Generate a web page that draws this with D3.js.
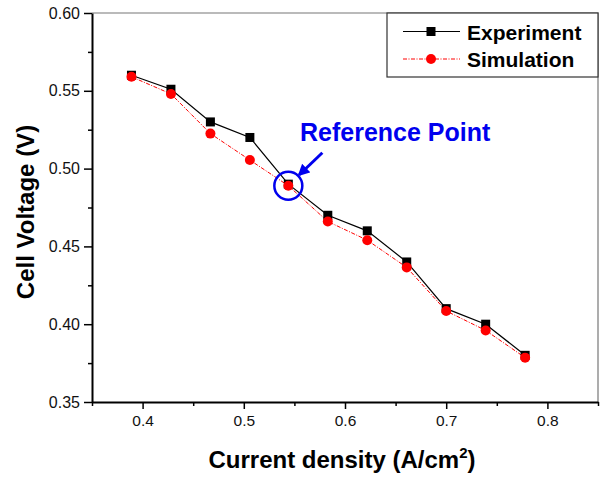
<!DOCTYPE html>
<html lang="en">
    <head>
        <meta charset="UTF-8">
        <title>Cell voltage</title>
        <style>
            body { margin: 0; background: #fff; }
            svg { font-family: "Liberation Sans", Arial, sans-serif; }
            .tick text { font-size: 15.5px; fill: #111; }
            .yax .tick text { font-size: 16px; }
            .axis path, .axis line { stroke: #000; }
        </style>
    </head>
    <body>
        <script src="https://cdn.jsdelivr.net/npm/d3@7"></script>
        <script>
// values
var currentDensity = [0.389, 0.428, 0.467, 0.506, 0.544, 0.583, 0.622, 0.661, 0.700, 0.739, 0.778];
var experiment = [0.560, 0.551, 0.530, 0.520, 0.490, 0.470, 0.460, 0.440, 0.410, 0.400, 0.380];
var simulation = [0.559, 0.548, 0.5225, 0.5055, 0.489, 0.466, 0.454, 0.4365, 0.4085, 0.396, 0.3785];
var xTicks = [0.4, 0.5, 0.6, 0.7, 0.8];
var xMinor = [0.35, 0.45, 0.55, 0.65, 0.75, 0.85];
var yTicks = [0.35, 0.40, 0.45, 0.50, 0.55, 0.60];
var yMinor = [0.375, 0.425, 0.475, 0.525, 0.575];
var seriesNames = ['Experiment', 'Simulation'];
var refIndex = 4;

var W = 609, H = 478;
var m = {left: 92, top: 13, right: 598, bottom: 402};

var svg = d3.select('body').append('svg')
    .attr('width', W).attr('height', H);

var x = d3.scaleLinear().domain([0.35, 0.85]).range([m.left, m.right]);
var y = d3.scaleLinear().domain([0.35, 0.60]).range([m.bottom, m.top]);

// frame top/right (grey)
svg.append('path')
    .attr('d', 'M' + m.left + ',' + m.top + 'H' + m.right + 'V' + m.bottom)
    .attr('fill', 'none').attr('stroke', '#777').attr('stroke-width', 1.2);

// minor ticks
svg.append('g').attr('class', 'axis')
    .attr('transform', 'translate(0,' + m.bottom + ')')
    .call(d3.axisBottom(x).tickValues(xMinor).tickSize(4).tickFormat(''))
    .call(g => g.select('.domain').remove())
    .selectAll('line').attr('stroke-width', 1.5);
svg.append('g').attr('class', 'axis')
    .attr('transform', 'translate(' + m.left + ',0)')
    .call(d3.axisLeft(y).tickValues(yMinor).tickSize(4).tickFormat(''))
    .call(g => g.select('.domain').remove())
    .selectAll('line').attr('stroke-width', 1.5);

// major axes
var xAxis = svg.append('g').attr('class', 'axis')
    .attr('transform', 'translate(0,' + m.bottom + ')')
    .call(d3.axisBottom(x).tickValues(xTicks).tickSize(7).tickSizeOuter(0).tickPadding(6).tickFormat(d3.format('.1f')));
xAxis.select('.domain').attr('stroke-width', 2);
xAxis.selectAll('line').attr('stroke-width', 1.5);

var yAxis = svg.append('g').attr('class', 'axis yax')
    .attr('transform', 'translate(' + m.left + ',0)')
    .call(d3.axisLeft(y).tickValues(yTicks).tickSize(8).tickSizeOuter(0).tickPadding(4).tickFormat(d3.format('.2f')));
yAxis.select('.domain').attr('stroke-width', 2);
yAxis.selectAll('line').attr('stroke-width', 1.5);

// axis titles
var xt = svg.append('text')
    .attr('x', 342).attr('y', 468)
    .attr('text-anchor', 'middle')
    .style('font-size', '24px').style('font-weight', 'bold')
    .text('Current density (A/cm');
xt.append('tspan').attr('dy', -10).style('font-size', '15px').text('2');
xt.append('tspan').attr('dy', 10).text(')');

svg.append('text')
    .attr('transform', 'translate(34,212) rotate(-90)')
    .attr('text-anchor', 'middle')
    .style('font-size', '24px').style('font-weight', 'bold')
    .text('Cell Voltage (V)');

// lines
var lineOf = function(vals) {
    return d3.line().x((d, i) => x(currentDensity[i])).y(d => y(d))(vals);
};
svg.append('path').attr('d', lineOf(experiment))
    .attr('fill', 'none').attr('stroke', '#000').attr('stroke-width', 1.2);
svg.append('path').attr('d', lineOf(simulation))
    .attr('fill', 'none').attr('stroke', '#ff0000').attr('stroke-width', 1)
    .attr('stroke-dasharray', '4,1.5,1,1.5');

// markers
svg.append('g').selectAll('rect')
    .data(experiment).enter().append('rect')
    .attr('x', (d, i) => x(currentDensity[i]) - 4.5)
    .attr('y', d => y(d) - 4.5)
    .attr('width', 9).attr('height', 9)
    .attr('fill', '#000');
svg.append('g').selectAll('circle')
    .data(simulation).enter().append('circle')
    .attr('cx', (d, i) => x(currentDensity[i]))
    .attr('cy', d => y(d))
    .attr('r', 5)
    .attr('fill', '#ff0000');

// reference point
var rx = x(currentDensity[refIndex]), ry = y(simulation[refIndex]);
svg.append('circle')
    .attr('cx', rx).attr('cy', ry).attr('r', 14)
    .attr('fill', 'none').attr('stroke', '#0000ee').attr('stroke-width', 2.5);

svg.append('defs').append('marker')
    .attr('id', 'arrow').attr('viewBox', '0 0 10 10')
    .attr('refX', 8).attr('refY', 5)
    .attr('markerWidth', 4).attr('markerHeight', 4)
    .attr('orient', 'auto')
    .append('path').attr('d', 'M0,0L10,5L0,10z').attr('fill', '#0000ee');
svg.append('line')
    .attr('x1', rx + 34).attr('y1', ry - 33)
    .attr('x2', rx + 11).attr('y2', ry - 11)
    .attr('stroke', '#0000ee').attr('stroke-width', 3)
    .attr('marker-end', 'url(#arrow)');

svg.append('text')
    .attr('x', 300).attr('y', 141)
    .style('font-size', '25px').style('font-weight', 'bold')
    .attr('fill', '#0000ee')
    .text('Reference Point');

// legend
var lg = svg.append('g');
lg.append('rect')
    .attr('x', 387).attr('y', 13).attr('width', 211).attr('height', 64)
    .attr('fill', '#fff').attr('stroke', '#333').attr('stroke-width', 1.2);
var rowY = [31.5, 59];
lg.append('line').attr('x1', 403).attr('x2', 460).attr('y1', rowY[0]).attr('y2', rowY[0])
    .attr('stroke', '#000').attr('stroke-width', 1.2);
lg.append('rect').attr('x', 431 - 4.5).attr('y', rowY[0] - 4.5).attr('width', 9).attr('height', 9).attr('fill', '#000');
lg.append('line').attr('x1', 403).attr('x2', 460).attr('y1', rowY[1]).attr('y2', rowY[1])
    .attr('stroke', '#ff0000').attr('stroke-width', 1).attr('stroke-dasharray', '4,1.5,1,1.5');
lg.append('circle').attr('cx', 431).attr('cy', rowY[1]).attr('r', 5).attr('fill', '#ff0000');
lg.selectAll('text.lab').data(seriesNames).enter().append('text')
    .attr('class', 'lab')
    .attr('x', 467).attr('y', (d, i) => rowY[i] + 8)
    .style('font-size', '21px').style('font-weight', 'bold')
    .text(d => d);
        </script>
    </body>
</html>
